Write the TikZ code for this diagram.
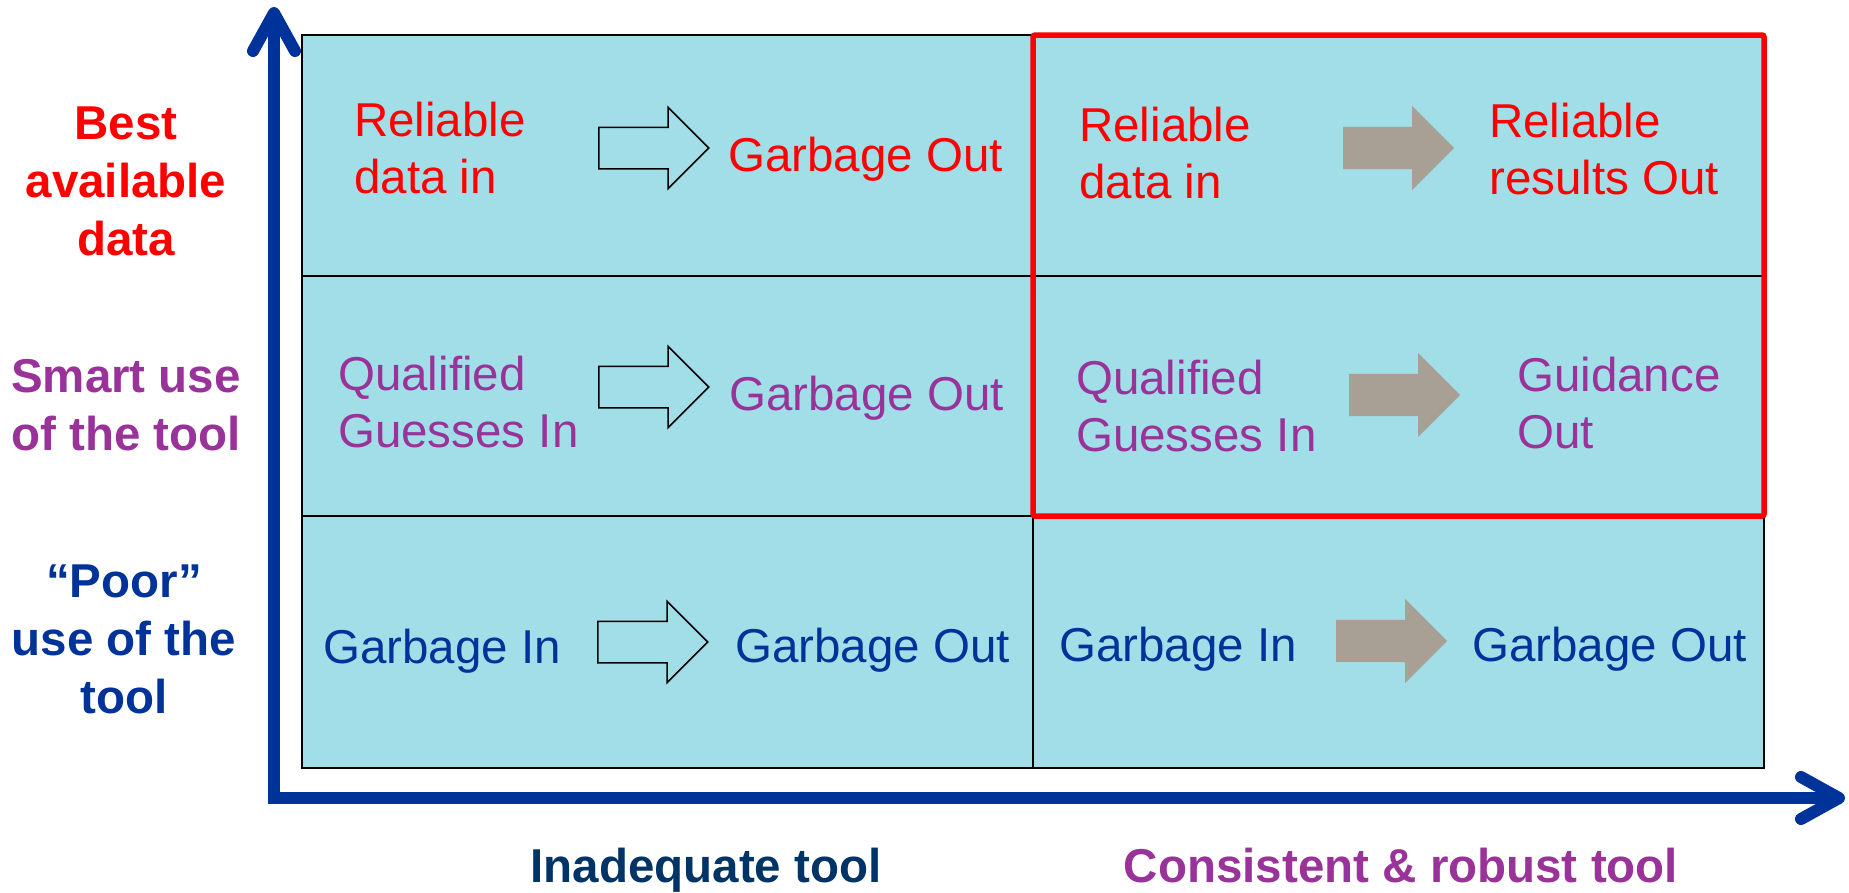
\documentclass[tikz,border=0pt]{standalone}
\usepackage{fontspec}
\setmainfont{Liberation Sans}
\usetikzlibrary{positioning, shapes.arrows, arrows.meta}

\definecolor{cellblue}{RGB}{162,222,232}
\definecolor{axisblue}{RGB}{0,51,153}
\definecolor{labelpurple}{RGB}{153,51,153}
\definecolor{labelnavy}{RGB}{0,51,102}
\definecolor{arrowgrey}{RGB}{168,160,149}

\begin{document}
\begin{tikzpicture}[
    x=1pt, y=-1pt,
    % Define styles
    cell/.style={rectangle, draw, line width=1.5pt, fill=cellblue, inner sep=0pt, outer sep=0pt, minimum width=731pt},
    txt/.style={inner sep=0pt, anchor=base west, align=left, font=\fontsize{47.5}{56.5}\selectfont},
    axislabel/.style={inner sep=0pt, anchor=base, align=center, font=\fontsize{47.5}{58}\selectfont\bfseries},
    hollow/.style={single arrow, draw, line width=1.5pt, inner sep=20pt, minimum height=110pt, single arrow head extend=20pt, anchor=tail},
    grey_arrow/.style={single arrow, fill=arrowgrey, inner sep=21pt, minimum height=111pt, single arrow head extend=21pt, anchor=tail},
    highlight/.style={draw=red, line width=5.5pt, rounded corners=2pt},
    axis/.style={line width=12pt, draw=axisblue, {Straight Barb[length=38pt, width=42pt, round]}-{Straight Barb[length=38pt, width=42pt, round]}}
]
    \useasboundingbox (0,0) rectangle (1849,892);

    % --- GRID ---
    \node (cell_tl) [cell, anchor=north west, minimum height=241pt] at (302,35) {};
    \node (cell_tr) [cell, right=0pt of cell_tl, minimum height=241pt] {};
    \node (cell_ml) [cell, below=0pt of cell_tl, minimum height=240pt] {};
    \node (cell_mr) [cell, right=0pt of cell_ml, minimum height=240pt] {};
    \node (cell_bl) [cell, below=0pt of cell_ml, minimum height=252pt] {};
    \node (cell_br) [cell, right=0pt of cell_bl, minimum height=252pt] {};

    % Frame round the two upper right cells
    \draw [highlight] (cell_tr.north west) rectangle (cell_mr.south east);

    % --- AXES ---
    \coordinate (y_top) at (274,7);
    \coordinate (origin) at (274,798);
    \coordinate (x_end) at (1845,798);
    \draw [axis] (y_top) -- (origin) -- (x_end);

    % --- ROW LABELS ---
    % base anchor of a multi-line node sits on its last line
    \node (best_data) [axislabel, red] at (126,255) {Best\\available\\data};
    \node (smart_use) [axislabel, labelpurple] at (126,450) {Smart use\\of the tool};
    \node (poor_use) [axislabel, axisblue] at (124,713) {“Poor”\\use of the\\tool};

    % --- COLUMN LABELS ---
    \node (inadequate) [axislabel, labelnavy] at (706,882) {Inadequate tool};
    \node (robust) [axislabel, labelpurple] at (1401,882) {Consistent \& robust tool};

    % --- TOP ROW ---
    \node (in_tl) [txt, red] at (354,193) {Reliable\\data in};
    \node (arr_tl) [hollow] at (598,148) {};
    \node (out_tl) [txt, red] at (728,171) {Garbage Out};
    \node (in_tr) [txt, red] at (1079,198) {Reliable\\data in};
    \node (arr_tr) [grey_arrow] at (1343,148) {};
    \node (out_tr) [txt, red] at (1489,194) {Reliable\\results Out};

    % --- MIDDLE ROW ---
    \node (in_ml) [txt, labelpurple] at (338,447) {Qualified\\Guesses In};
    \node (arr_ml) [hollow] at (598,387) {};
    \node (out_ml) [txt, labelpurple] at (729,410) {Garbage Out};
    \node (in_mr) [txt, labelpurple] at (1076,451) {Qualified\\Guesses In};
    \node (arr_mr) [grey_arrow] at (1349,395) {};
    \node (out_mr) [txt, labelpurple] at (1517,448) {Guidance\\Out};

    % --- BOTTOM ROW ---
    \node (in_bl) [txt, axisblue] at (323,663) {Garbage In};
    \node (arr_bl) [hollow] at (597,642) {};
    \node (out_bl) [txt, axisblue] at (735,662) {Garbage Out};
    \node (in_br) [txt, axisblue] at (1059,661) {Garbage In};
    \node (arr_br) [grey_arrow] at (1336,641) {};
    \node (out_br) [txt, axisblue] at (1472,661) {Garbage Out};

\end{tikzpicture}
\end{document}
